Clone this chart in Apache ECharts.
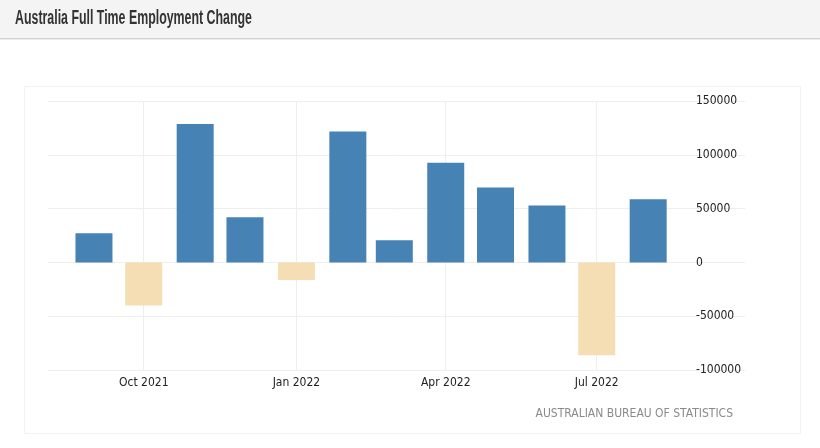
<!DOCTYPE html>
<html>
<head>
<meta charset="utf-8">
<script src="https://cdn.jsdelivr.net/npm/echarts@6/dist/echarts.min.js"></script>
<style>
html,body{margin:0;padding:0;background:#fff;}
#c{width:820px;height:448px;}
</style>
</head>
<body>
<div id="c"></div>
<script>
// Data
var categories = ['2021-09-01','2021-10-01','2021-11-01','2021-12-01','2022-01-01','2022-02-01','2022-03-01','2022-04-01','2022-05-01','2022-06-01','2022-07-01','2022-08-01'];
var values = [27000, -40100, 128700, 42000, -16400, 121600, 20700, 92600, 69700, 52800, -86400, 58800];
var xTickDates = ['2021-10-01','2022-01-01','2022-04-01','2022-07-01'];
var monthNames = ['Jan','Feb','Mar','Apr','May','Jun','Jul','Aug','Sep','Oct','Nov','Dec'];
var yTicks = [-100000, -50000, 0, 50000, 100000, 150000];
var titleText = 'Australia Full Time Employment Change';
var sourceText = 'AUSTRALIAN BUREAU OF STATISTICS';

function ts(s){ var p = s.split('-'); return Date.UTC(+p[0], +p[1]-1, +p[2]); }
var DAY = 86400000;

// measure the title to squeeze it to the reference width
var titleFont = 'bold 20px "Liberation Sans", Arial, sans-serif';
var cv = document.createElement('canvas').getContext('2d');
cv.font = titleFont;
var titleW = cv.measureText(titleText).width;
var titleScale = 237 / titleW;

var chart = echarts.init(document.getElementById('c'), null, {renderer:'canvas'});
var labelFont = '"DejaVu Sans Condensed", "DejaVu Sans", sans-serif';

var option = {
  animation: false,
  backgroundColor: '#ffffff',
  grid: {left: 48, right: 75, top: 101, bottom: 78, containLabel: false},
  graphic: [
    {type:'rect', shape:{x:0, y:0, width:820, height:38}, style:{fill:'#f4f4f4'}, silent:true, z:-1},
    {type:'rect', shape:{x:0, y:38, width:820, height:1}, style:{fill:'#d2d2d2'}, silent:true, z:-1},
    {type:'rect', shape:{x:0, y:39, width:820, height:1}, style:{fill:'#ececec'}, silent:true, z:-1},
    {type:'rect', shape:{x:24.5, y:86.5, width:776, height:347}, style:{fill:'none', stroke:'#f2f2f2', lineWidth:1}, silent:true, z:-1},
    {type:'text', x:15, y:18.5, scaleX: titleScale, style:{text: titleText, font: titleFont, fill:'#333333', verticalAlign:'middle', align:'left'}, silent:true},
    {type:'text', x:733, y:414, style:{text: sourceText, font:'12px ' + labelFont, fill:'#8a8a8a', verticalAlign:'middle', align:'right'}, silent:true}
  ],
  xAxis: {
    type: 'value',
    min: ts(categories[0]) - 27.7 * DAY,
    max: ts(categories[categories.length-1]) + 58.35 * DAY,
    axisLine: {show:false},
    axisTick: {show:false},
    splitLine: {show:false},
    axisLabel: {
      customValues: xTickDates.map(ts),
      formatter: function(v){ var d = new Date(v); return monthNames[d.getUTCMonth()] + ' ' + d.getUTCFullYear(); },
      color: '#222222',
      fontFamily: labelFont,
      fontSize: 12,
      margin: 7
    }
  },
  yAxis: {
    type: 'value',
    position: 'right',
    min: yTicks[0],
    max: yTicks[yTicks.length-1],
    interval: 50000,
    axisLine: {show:false},
    axisTick: {show:false},
    splitLine: {show:true, lineStyle:{color:'#eeeeee', width:1}},
    axisLabel: {
      inside: true,
      align: 'left',
      margin: 49,
      color: '#222222',
      fontFamily: labelFont,
      fontSize: 12,
      formatter: function(v){ return String(v); }
    }
  },
  series: [
    {
      type: 'line',
      data: [],
      z: 1,
      silent: true,
      markLine: {
        silent: true,
        symbol: ['none','none'],
        label: {show:false},
        lineStyle: {color:'#eeeeee', type:'solid', width:1},
        data: xTickDates.map(function(d){ return {xAxis: ts(d)}; })
      }
    },
    {
      type: 'bar',
      zlevel: 1,
      z: 2,
      barWidth: 37,
      data: categories.map(function(c, i){ return [ts(c), values[i]]; }),
      itemStyle: {
        color: function(p){ return p.value[1] >= 0 ? '#4682b4' : '#f5deb3'; }
      }
    }
  ]
};
chart.setOption(option);
</script>
</body>
</html>
